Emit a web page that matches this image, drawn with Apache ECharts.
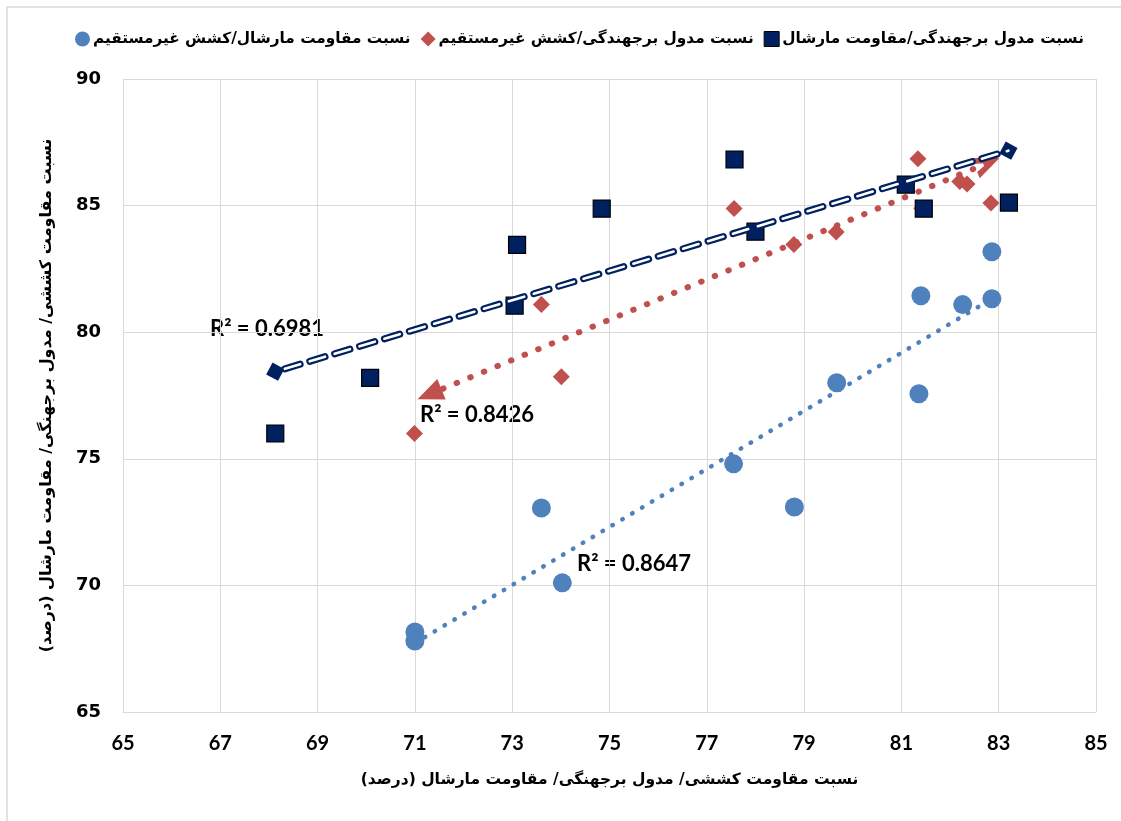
<!DOCTYPE html>
<html>
<head>
<meta charset="utf-8">
<title>chart</title>
<script src="https://cdn.jsdelivr.net/npm/echarts@6/dist/echarts.min.js"></script>
<style>
  html, body { margin: 0; padding: 0; background: #fff; overflow: hidden; }
  #main { width: 1121px; height: 821px; }
</style>
</head>
<body>
<div id="main"></div>
<script>
// names
var seriesNames = [
  'نسبت مقاومت مارشال/کشش غیرمستقیم',
  'نسبت مدول برجهندگی/کشش غیرمستقیم',
  'نسبت مدول برجهندگی/مقاومت مارشال'
];
var axisTitle = 'نسبت مقاومت کششی/ مدول برجهنگی/ مقاومت مارشال (درصد)';

// مارشال / کشش (دایره آبی)
var blueX = [71.0, 71.0, 73.6, 74.03, 77.55, 78.8, 79.67, 81.36, 81.4, 82.26, 82.86, 82.86];
var blueY = [68.16, 67.8, 73.06, 70.1, 74.8, 73.1, 78.0, 77.57, 81.44, 81.09, 83.18, 81.32];

// مدول / کشش (لوزی قرمز)
var redX = [70.99, 73.6, 74.01, 77.56, 78.79, 79.66, 81.34, 81.42, 82.2, 82.35, 82.84];
var redY = [76.0, 81.09, 78.24, 84.89, 83.46, 83.96, 86.85, 84.9, 85.95, 85.85, 85.1];

// مدول / مارشال (مربع سرمه ای)
var navyX = [68.13, 70.08, 73.05, 73.1, 74.84, 77.57, 78.0, 81.09, 81.46, 83.21];
var navyY = [76.0, 78.2, 81.05, 83.45, 84.88, 86.82, 83.97, 85.83, 84.88, 85.12];

// trendline ends
var blueTrend = [[71.0, 67.72], [82.86, 81.32]];
var redTrend = [[71.3, 77.55], [82.77, 86.68]];
var navyTrend = [[68.13, 78.44], [83.2, 87.17]];

var r2Labels = ['R² = 0.6981', 'R² = 0.8426', 'R² = 0.8647'];

function pairs(xs, ys) {
  var out = [];
  for (var i = 0; i < xs.length; i++) out.push([xs[i], ys[i]]);
  return out;
}

var chart = echarts.init(document.getElementById('main'));

var gridColor = '#d9d9d9';
var labelFont = { fontFamily: 'Lato', fontWeight: 'bold', fontSize: 20, color: '#000' };
var r2Font = 'bold 22px Lato';

var option = {
  animation: false,
  backgroundColor: '#fff',
  legend: {
    top: 26,
    left: 70,
    itemGap: 10,
    itemWidth: 15,
    itemHeight: 15,
    selectedMode: false,
    textStyle: { fontFamily: 'DejaVu Sans', fontWeight: 'bold', fontSize: 15.3, color: '#000', padding: [0, 0, 0, -2] },
    data: [
      { name: seriesNames[0], icon: 'circle', itemStyle: { color: '#4f81bd' } },
      { name: seriesNames[1], icon: 'diamond', itemStyle: { color: '#c0504d' } },
      { name: seriesNames[2], icon: 'rect', itemStyle: { color: '#002060', borderColor: '#000', borderWidth: 1 } }
    ]
  },
  grid: { left: 123, right: 25, top: 79, bottom: 109 },
  xAxis: {
    type: 'value',
    min: 65, max: 85, interval: 2,
    name: axisTitle,
    nameLocation: 'middle',
    nameGap: 60,
    nameTextStyle: { fontFamily: 'DejaVu Sans', fontWeight: 'bold', fontSize: 15.5, color: '#000' },
    axisLine: { show: true, lineStyle: { color: gridColor } },
    axisTick: { show: false },
    axisLabel: Object.assign({ margin: 22 }, labelFont),
    splitLine: { show: true, lineStyle: { color: gridColor, width: 1 } }
  },
  yAxis: {
    type: 'value',
    min: 65, max: 90, interval: 5,
    name: axisTitle,
    nameLocation: 'middle',
    nameGap: 68,
    nameTextStyle: { fontFamily: 'DejaVu Sans', fontWeight: 'bold', fontSize: 16, color: '#000' },
    axisLine: { show: true, lineStyle: { color: gridColor } },
    axisTick: { show: false },
    axisLabel: { margin: 22, fontFamily: 'DejaVu Sans', fontWeight: 'bold', fontSize: 18, color: '#000' },
    splitLine: { show: true, lineStyle: { color: gridColor, width: 1 } }
  },
  graphic: [
    // chart frame: only the top and left edges show in the picture
    { type: 'line', silent: true, shape: { x1: 7, y1: 7, x2: 1121, y2: 7 }, style: { stroke: gridColor, lineWidth: 1.5 } },
    { type: 'line', silent: true, shape: { x1: 7, y1: 7, x2: 7, y2: 821 }, style: { stroke: gridColor, lineWidth: 1.5 } },
    { type: 'text', x: 210, y: 318, style: { text: r2Labels[0], font: r2Font, fill: '#000' } },
    { type: 'text', x: 420, y: 404, style: { text: r2Labels[1], font: r2Font, fill: '#000' } },
    { type: 'text', x: 577, y: 553, style: { text: r2Labels[2], font: r2Font, fill: '#000' } }
  ],
  series: [
    {
      name: seriesNames[0],
      type: 'scatter',
      z: 2,
      symbol: 'circle',
      symbolSize: 19,
      itemStyle: { color: '#4f81bd', opacity: 1 },
      data: pairs(blueX, blueY),
      markLine: {
        silent: true,
        animation: false,
        label: { show: false },
        emphasis: { disabled: true },
        symbol: ['none', 'none'],
        lineStyle: { color: '#4f81bd', width: 4.5, type: [0.5, 11], cap: 'round' },
        data: [[{ coord: blueTrend[0] }, { coord: blueTrend[1] }]]
      }
    },
    {
      name: seriesNames[1],
      type: 'scatter',
      z: 3,
      symbol: 'diamond',
      symbolSize: 17,
      itemStyle: { color: '#c0504d', opacity: 1 },
      data: pairs(redX, redY),
      markLine: {
        silent: true,
        animation: false,
        label: { show: false },
        emphasis: { disabled: true },
        symbol: ['triangle', 'path://M0,20 L10,0 L20,20 L14,20 L10,10 L6,20 Z'],
        symbolSize: [22, 26],
        lineStyle: { color: '#c0504d', width: 6, type: [0.5, 14.2], cap: 'round' },
        data: [[{ coord: redTrend[0] }, { coord: redTrend[1] }]]
      }
    },
    {
      name: seriesNames[2],
      type: 'scatter',
      z: 4,
      symbol: 'rect',
      symbolSize: 17,
      itemStyle: { color: '#002060', borderColor: '#000', borderWidth: 1.2, opacity: 1 },
      data: pairs(navyX, navyY),
      markLine: {
        silent: true,
        animation: false,
        label: { show: false },
        emphasis: { disabled: true },
        symbol: ['diamond', 'diamond'],
        symbolSize: [19, 19],
        lineStyle: { color: '#002060', width: 7, type: [16, 10], dashOffset: 16, cap: 'round' },
        data: [
          [{ coord: navyTrend[0] }, { coord: navyTrend[1] }],
          [{ coord: navyTrend[0], symbol: 'none', lineStyle: { color: '#fff', width: 2.6, type: [16, 10], dashOffset: 16, cap: 'round' } },
           { coord: navyTrend[1], symbol: 'none' }]
        ]
      }
    }
  ]
};

chart.setOption(option);
</script>
</body>
</html>
